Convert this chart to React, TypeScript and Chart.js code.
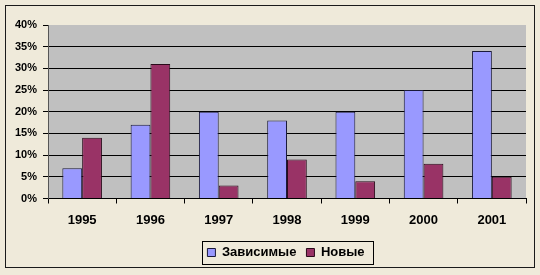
import React, { useEffect, useRef } from "react";
import { Chart, registerables } from "chart.js";

Chart.register(...registerables);

const categories = ["1995", "1996", "1997", "1998", "1999", "2000", "2001"];
const dependentValues = [7, 17, 20, 18, 20, 25, 34];
const newValues = [14, 31, 3, 9, 4, 8, 5];
const seriesNames = ["Зависимые", "Новые"];
const yTicks = [0, 5, 10, 15, 20, 25, 30, 35, 40];

const FONT = "'Liberation Sans', Arial, sans-serif";
const LEGEND_SHIFT = 23;

const framePlugin = {
  id: "frame",
  afterUpdate(chart: any) {
    const lg = chart.legend;
    if (!lg) return;
    lg.left += LEGEND_SHIFT;
    lg.right += LEGEND_SHIFT;
    (lg.legendHitBoxes || []).forEach((h: any) => {
      h.left += LEGEND_SHIFT;
    });
  },
  beforeDraw(chart: any) {
    const { ctx, chartArea } = chart;
    ctx.save();
    ctx.fillStyle = "#EFEADA";
    ctx.fillRect(0, 0, chart.width, chart.height);
    ctx.strokeStyle = "#1a1a1a";
    ctx.lineWidth = 1;
    ctx.strokeRect(5.5, 5.5, 529, 262);
    ctx.fillStyle = "#C0C0C0";
    ctx.fillRect(chartArea.left, chartArea.top, chartArea.right - chartArea.left, chartArea.bottom - chartArea.top);
    ctx.restore();
  },
  afterDraw(chart: any) {
    const lg = chart.legend;
    if (!lg || !lg.legendHitBoxes || !lg.legendHitBoxes.length) return;
    const hb = lg.legendHitBoxes;
    const first = hb[0];
    const last = hb[hb.length - 1];
    const left = Math.round(first.left - 5) + 0.5;
    const right = Math.round(last.left + last.width + 8) + 0.5;
    const top = Math.round(first.top + first.height / 2 - 12) + 0.5;
    const ctx = chart.ctx;
    ctx.save();
    ctx.strokeStyle = "#000";
    ctx.lineWidth = 1;
    ctx.strokeRect(left, top, right - left, 23);
    ctx.restore();
  },
};

export default function App() {
  const ref = useRef<HTMLCanvasElement>(null);
  useEffect(() => {
    if (!ref.current) return;
    const chart = new Chart(ref.current, {
      type: "bar",
      data: {
        labels: categories,
        datasets: [
          {
            label: seriesNames[0],
            data: dependentValues,
            backgroundColor: "#9999FF",
            borderColor: "#1a1a3a",
            borderWidth: 1,
          },
          {
            label: seriesNames[1],
            data: newValues,
            backgroundColor: "#993366",
            borderColor: "#2a0a1a",
            borderWidth: 1,
          },
        ],
      },
      options: {
        animation: false,
        responsive: false,
        maintainAspectRatio: false,
        events: [],
        layout: { padding: { left: 0, right: 14, top: 25, bottom: 6 } },
        datasets: { bar: { categoryPercentage: 0.58, barPercentage: 1 } },
        plugins: {
          tooltip: { enabled: false },
          legend: {
            position: "bottom",
            labels: {
              boxWidth: 8,
              boxHeight: 8,
              padding: 10,
              color: "#000",
              font: { family: FONT, size: 13, weight: "bold" },
            },
          },
        },
        scales: {
          x: {
            grid: {
              drawOnChartArea: false,
              drawTicks: true,
              tickLength: 5,
              color: "#000",
            },
            border: { color: "#000", width: 1 },
            ticks: {
              color: "#000",
              padding: 9,
              maxRotation: 0,
              font: { family: FONT, size: 13, weight: "bold" },
            },
            afterFit: (s: any) => {
              s.height = 37.5;
            },
          },
          y: {
            min: 0,
            max: 40,
            afterBuildTicks: (s: any) => {
              s.ticks = yTicks.map((v) => ({ value: v }));
            },
            grid: {
              color: (c: any) => (c.tick && c.tick.value === 40 ? "rgba(0,0,0,0)" : "#000"),
              tickColor: "#000",
              drawTicks: true,
              tickLength: 5,
              lineWidth: 1,
            },
            border: { color: "#555", width: 1 },
            ticks: {
              color: "#000",
              padding: 6,
              font: { family: FONT, size: 11, weight: "bold" },
              callback: (v: any) => v + "%",
            },
            afterFit: (s: any) => {
              s.width = 48;
            },
          },
        },
      },
      plugins: [framePlugin],
    });
    return () => chart.destroy();
  }, []);
  return (
    <div style={{ position: "fixed", left: 0, top: 0, width: 540, height: 275, background: "#EFEADA" }}>
      <canvas ref={ref} width={540} height={275} style={{ width: 540, height: 275, display: "block" }} />
    </div>
  );
}
